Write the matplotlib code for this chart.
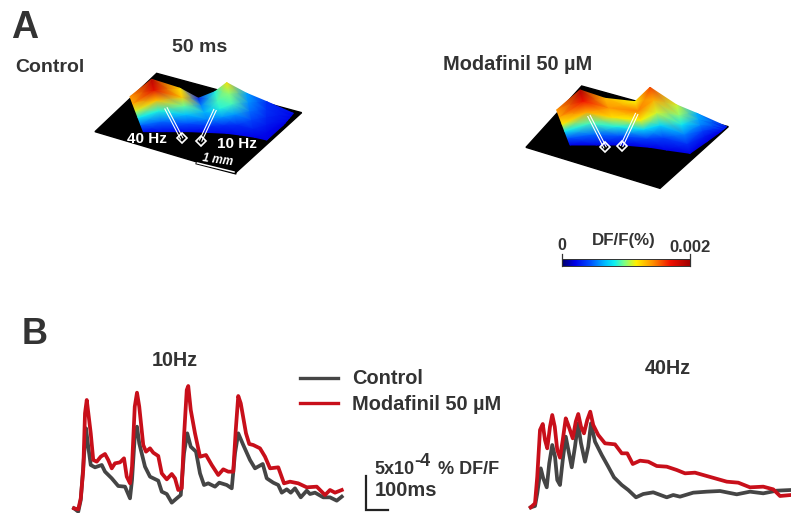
import numpy as np
import matplotlib
matplotlib.use("Agg")
import matplotlib.pyplot as plt

plt.rcParams['font.family'] = ['Liberation Sans', 'DejaVu Sans']
W, H = 791, 513
GREY, RED, INK = '#454545', '#c80f1a', '#333333'

# ---- traces: time (ms), DF/F (1e-4 %)
t10_red = [56,73,83,93,100,107,115,123,133,147,163,180,193,207,220,240,256,267,280,288,299,308,317,333,344,360,373,393,407,427,447,460,473,487,496,507,513,523,540,560,584,607,633,653,673,693,703,713,723,744,757,773,800,820,840,873,896,920,953,987,1027,1060,1080,1100,1127]
v10_red = [.7,.55,2.2,6.45,14.95,16.95,14.45,11.95,7.95,7.7,8.45,8.85,7.95,6.7,7.45,7.6,8.2,5.45,4.45,6.95,15.95,18.05,15.95,10.2,9.2,9.7,9.05,8.55,5.95,5.05,5.85,5.2,3.45,3.7,11.45,18.45,19.05,15.45,11.95,8.45,8.7,7.2,5.7,6.55,6.2,6.2,12.45,17.55,16.45,11.95,10.35,10.2,9.7,8.45,6.7,6.85,4.45,4.7,4.45,3.85,3.95,2.7,3.45,3.05,3.45]
t10_grey = [56,73,83,93,104,113,123,140,167,180,207,233,260,280,288,299,308,317,340,360,393,407,427,447,467,483,496,509,523,544,560,576,593,620,637,667,687,700,713,733,760,780,811,827,853,873,887,907,923,940,963,987,1000,1020,1053,1080,1107,1127]
v10_grey = [.7,.2,1.95,6.95,12.7,9.95,7.2,6.85,7.2,6.2,5.2,4.05,3.95,2.2,4.95,11.45,12.95,10.45,6.95,5.45,4.85,3.2,2.85,1.55,2.2,2.7,8.95,11.95,9.95,9.2,5.95,4.2,4.45,3.95,4.55,4.2,3.7,8.95,11.95,10.2,7.95,6.7,7.35,5.2,4.55,4.2,3.05,3.55,3.05,3.7,2.35,3.35,2.85,3.05,2.35,2.35,1.85,2.45]
t40_red = [83,100,109,120,131,140,149,160,169,179,189,200,211,223,233,251,263,273,284,296,309,321,333,353,380,420,447,469,491,520,553,587,627,667,700,740,787,820,867,913,960,1013,1053,1080,1124]
v40_red = [.85,1.45,5.45,12.45,13.35,10.95,9.7,12.95,14.7,12.95,9.45,8.3,10.95,14.2,13.2,11.2,13.7,14.85,12.95,11.95,13.95,15.2,13.2,11.7,10.45,10.3,8.95,8.95,7.35,7.85,7.7,7.05,6.95,6.45,5.95,6.05,5.55,5.2,4.7,4.55,3.85,3.95,3.55,2.55,2.7]
t40_grey = [83,100,109,123,133,147,157,169,180,189,200,211,223,236,247,260,272,284,300,313,324,340,367,393,416,447,473,504,533,573,627,653,680,733,787,840,907,960,1013,1067,1124]
v40_grey = [.85,1.05,2.95,6.7,5.2,3.85,7.45,10.2,8.45,4.95,4.2,7.95,11.45,8.95,6.85,9.95,13.45,10.45,7.7,9.95,13.45,10.7,8.7,6.95,5.35,4.2,3.45,2.35,2.85,3.1,2.35,2.7,2.45,3.05,3.2,3.3,2.8,3.2,2.95,3.35,3.45]

# ---- activity maps: DF/F (1e-3 %), rows front to back, columns left to right
map_control = [
    [.22,.22,.22,.22,.22,.22,.20,.20,.18],
    [.50,.50,.45,.35,.35,.35,.30,.22,.20],
    [.80,.85,.70,.55,.60,.60,.40,.28,.22],
    [1.10,1.30,.95,.65,.85,.90,.50,.32,.22],
    [1.35,1.75,1.25,.55,.90,1.0,.58,.35,.22],
    [1.40,1.90,1.20,.30,.85,1.2,.62,.35,.22]]
map_modafinil = [
    [.20,.20,.20,.20,.20,.20,.20,.18],
    [.45,.50,.45,.40,.40,.35,.28,.20],
    [.80,.90,.85,.75,.75,.55,.40,.22],
    [1.15,1.35,1.20,1.15,1.10,.80,.55,.25],
    [1.35,1.70,1.40,1.45,1.35,1.0,.62,.25],
    [1.40,1.95,1.30,1.15,1.60,1.1,.65,.22]]

def px(x0, y0, pts):
    return [(x0 + a / 3, y0 + b / 3) for a, b in pts]

def surface(ax, values, top, bottom):
    c = np.array(values)
    top, bottom = np.array(top), np.array(bottom)
    f = np.linspace(0, 1, c.shape[0])[:, None, None]
    g = bottom[None] * (1 - f) + top[None] * f
    ax.pcolormesh(g[..., 0], g[..., 1], c, cmap=cmap, vmin=0, vmax=2,
                  shading='gouraud', rasterized=True, zorder=3)

def electrode(ax, a, b):
    a, b = np.array(a), np.array(b)
    n = np.array([-(b - a)[1], (b - a)[0]]); n = n / np.hypot(*n) * 1.3
    for s in (-1, 1):
        ax.plot(*zip(a + s * n, b + s * n), color='white', lw=.8, zorder=4)
    ax.plot(*b, marker='D', ms=5.5, mfc='none', mec='white', mew=1.2, zorder=4)

cmap = matplotlib.colors.LinearSegmentedColormap.from_list('jetish', [
    (0, '#00006a'), (.1, '#0000e8'), (.22, '#0050ff'), (.34, '#00c0ff'), (.41, '#10f0f0'),
    (.49, '#80ff80'), (.58, '#fff000'), (.71, '#ff9000'), (.85, '#f01000'), (1, '#a00000')])

fig = plt.figure(figsize=(W / 100, H / 100), dpi=100)
ov = fig.add_axes([0, 0, 1, 1])
ov.set_xlim(0, W); ov.set_ylim(H, 0); ov.axis('off')

# control map
ov.fill(*zip(*px(80, 60, [(45,215),(230,40),(665,158),(465,340)])), color='black', zorder=2)
surface(ov, map_control,
        px(80, 60, [(150,110),(215,58),(300,85),(355,115),(405,95),(440,68),(500,100),(560,125),(640,160)]),
        px(80, 60, [(190,215),(250,215),(330,215),(400,218),(440,220),(480,225),(525,232),(560,240),(610,195)]))
for a, b in [((258,145),(305,235)), ((405,150),(362,242))]:
    electrode(ov, *px(80, 60, [a, b]))
ov.plot(*zip(*px(80, 60, [(352,309),(465,338)])), color='black', lw=2.4, zorder=4)
ov.plot(*zip(*px(80, 60, [(352,309),(462,336)])), color='white', lw=1.1, zorder=4)

# modafinil map
ov.fill(*zip(*px(510, 70, [(48,232),(215,48),(655,170),(450,355)])), color='black', zorder=2)
surface(ov, map_modafinil,
        px(510, 70, [(140,120),(210,60),(285,85),(375,95),(420,52),(500,105),(560,130),(650,170)]),
        px(510, 70, [(180,225),(260,225),(340,225),(420,232),(470,240),(540,250),(590,215),(625,190)]))
for a, b in [((237,138),(285,232)), ((380,132),(335,228))]:
    electrode(ov, *px(510, 70, [a, b]))

# text
def label(x, y, s, size=14.4, color=INK, ha='left', **kw):
    ov.text(x, y, s, fontsize=size, color=color, ha=ha, va='center', fontweight='bold', zorder=6, **kw)

label(11, 28, 'A', 27)
label(22, 335, 'B', 26)
label(200, 47, '50 ms', 14, ha='center')
label(15, 68, 'Control', 14)
label(443, 64, 'Modafinil 50 µM', 14.4)
label(127, 139, '40 Hz', 11, color='white')
label(217, 144, '10 Hz', 11, color='white')
label(218, 160, '1 mm', 8.5, color='white', ha='center', style='italic', rotation=-8)
label(175, 360, '10Hz', 14.2, ha='center')
label(668, 368, '40Hz', 14.2, ha='center')
label(352, 379, 'Control', 14.4)
label(352, 404, 'Modafinil 50 µM', 14.4)
label(374, 469, '5x10', 13)
label(414, 461, '-4', 13)
label(438, 469, '% DF/F', 13)
label(375, 491, '100ms', 14.5)
label(562, 245, '0', 11.5, ha='center')
label(624, 241, 'DF/F(%)', 12.2, ha='center')
label(690, 248, '0.002', 12, ha='center')

# legend handles and scale bar
ov.plot([300, 338], [378, 378], color=GREY, lw=2.4, zorder=5)
ov.plot([300, 338], [403, 403], color=RED, lw=2.4, zorder=5)
ov.plot([366, 366, 388], [476, 510, 510], color='#222222', lw=1.6, zorder=5, solid_joinstyle='miter')

# colour bar
cb = fig.add_axes([562 / W, 1 - 266 / H, 128 / W, 7 / H])
cb.imshow(np.linspace(0, 0.002, 256)[None], aspect='auto', cmap=cmap, vmin=0, vmax=.002,
          extent=[0, .002, 0, 1])
cb.set_xticks([]); cb.set_yticks([])
for s in cb.spines.values():
    s.set_color('#333333'); s.set_linewidth(.7)
ov.plot([562, 562], [254, 266], color='#333333', lw=.9)
ov.plot([690, 690], [254, 266], color='#333333', lw=.9)

# traces
def trace_axes(x, y, w, h, xmax, ymax):
    a = fig.add_axes([x / W, 1 - (y + h) / H, w / W, h / H])
    a.set_xlim(0, xmax); a.set_ylim(0, ymax); a.axis('off'); a.patch.set_alpha(0)
    return a

LW = 2.7
a10 = trace_axes(60, 370, 300, 143, 1200, 21.45)
a10.plot(t10_grey, v10_grey, color=GREY, lw=LW, clip_on=False)
a10.plot(t10_red, v10_red, color=RED, lw=LW, clip_on=False)
a40 = trace_axes(510, 390, 281, 123, 1124, 18.45)
a40.plot(t40_grey, v40_grey, color=GREY, lw=LW, clip_on=False)
a40.plot(t40_red, v40_red, color=RED, lw=LW, clip_on=False)

fig.savefig('out.png', dpi=100)
